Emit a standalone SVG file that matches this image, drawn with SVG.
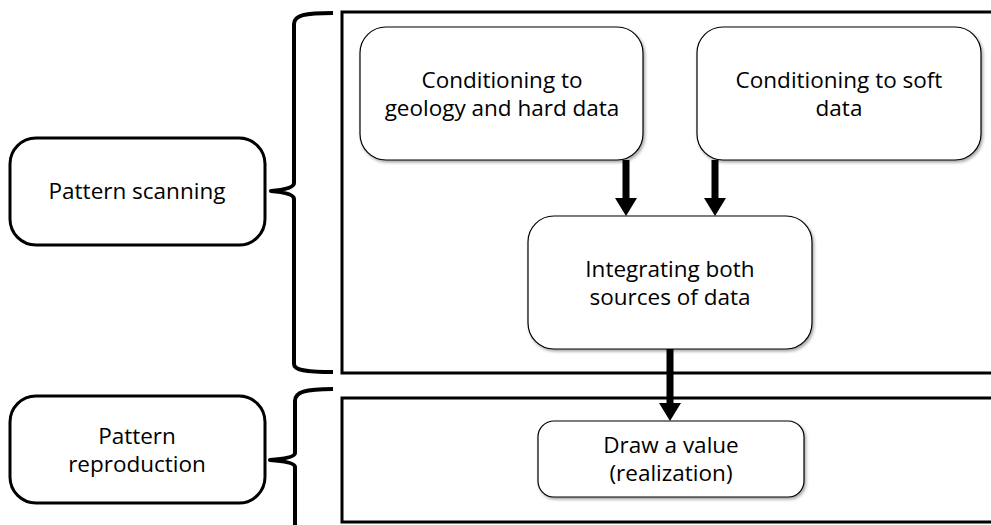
<svg xmlns="http://www.w3.org/2000/svg" width="991" height="525" viewBox="0 0 991 525">
<style>
.t{font-family:"Open Sans","Liberation Sans",sans-serif;font-size:22.5px;fill:#000;text-anchor:middle}
.outer{fill:#fff;stroke:#000;stroke-width:3}
.label{fill:#fff;stroke:#000;stroke-width:3}
.inner{fill:#fff;stroke:#000;stroke-width:1.2;filter:url(#sh)}
.brace{fill:none;stroke:#000;stroke-width:4;stroke-linejoin:round}
.shaft{stroke:#000;stroke-width:7}
</style>
<defs>
<filter id="sh" x="-5%" y="-5%" width="112%" height="115%">
<feDropShadow dx="1.5" dy="2" stdDeviation="1.5" flood-color="#000" flood-opacity="0.35"/>
</filter>
</defs>
<rect width="991" height="525" fill="#fff"/>
<g id="frame-scan"><rect class="outer" x="342" y="12" width="660" height="361"/></g>
<g id="frame-repro"><rect class="outer" x="342" y="398" width="660" height="124"/></g>
<g id="brace-scan"><path class="brace" d="M333,13 C305,13 294,15 294,24 L294,183 C294,188 283,190 271,191 C283,192 294,194 294,199 L294,364 C294,370 305,372 333,372"/></g>
<g id="brace-repro"><path class="brace" d="M333,389 C305,389 295,392 295,401 L295,453 C295,457 283,459 270,460 C283,461 295,463 295,467 L295,525"/></g>
<g id="pattern-scanning"><rect class="label" x="10" y="138" width="255" height="107" rx="26"/><text class="t" x="137" y="199">Pattern scanning</text></g>
<g id="pattern-reproduction"><rect class="label" x="10" y="396" width="255" height="107" rx="26"/><text class="t" x="137" y="444">Pattern</text><text class="t" x="137" y="472">reproduction</text></g>
<g id="cond-geology"><rect class="inner" x="360" y="27" width="283" height="133" rx="26"/><text class="t" x="502" y="88">Conditioning to</text><text class="t" x="502" y="116">geology and hard data</text></g>
<g id="cond-soft"><rect class="inner" x="697" y="27" width="284" height="133" rx="26"/><text class="t" x="839" y="88">Conditioning to soft</text><text class="t" x="839" y="116">data</text></g>
<g id="integrating"><rect class="inner" x="528" y="216" width="284" height="133" rx="26"/><text class="t" x="670" y="277">Integrating both</text><text class="t" x="670" y="305">sources of data</text></g>
<g id="connectors">
<line class="shaft" x1="626" y1="160" x2="626" y2="200"/><polygon points="615,198 637,198 626,216"/>
<line class="shaft" x1="715" y1="160" x2="715" y2="200"/><polygon points="704,198 726,198 715,216"/>
<line class="shaft" x1="670" y1="349" x2="670" y2="405"/><polygon points="659,403 681,403 670,421"/>
</g>
<g id="draw-value"><rect class="inner" x="538" y="421" width="266" height="76" rx="16"/><text class="t" x="671" y="453">Draw a value</text><text class="t" x="671" y="481">(realization)</text></g>
</svg>
